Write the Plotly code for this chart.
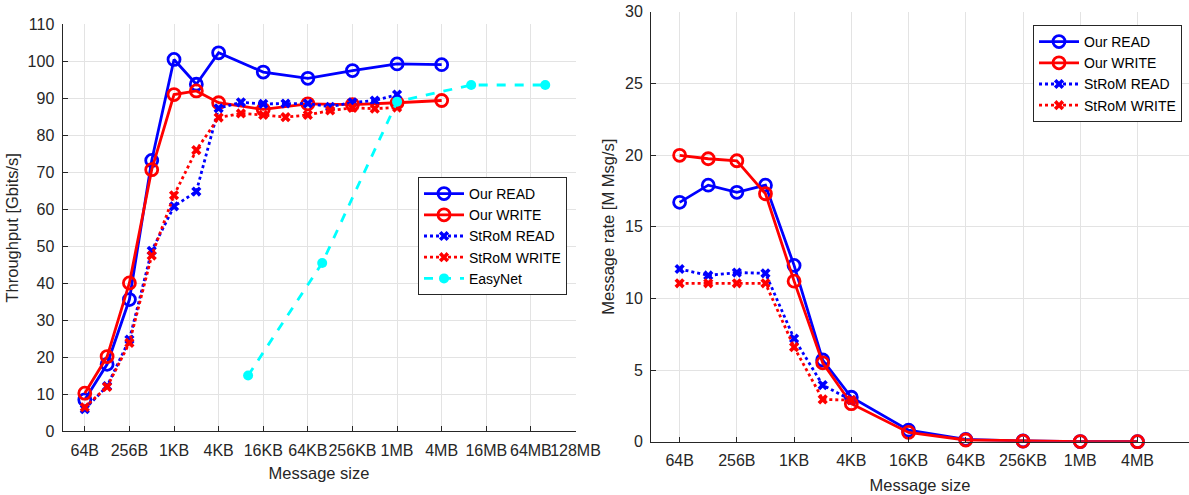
import math
import plotly.graph_objects as go

KB = 1024
MB = 1024 * 1024

# ---------------- data ----------------
# Left: throughput [Gbits/s]
our_sizes_left = [64, 128, 256, 512, 1*KB, 2*KB, 4*KB, 16*KB, 64*KB, 256*KB, 1*MB, 4*MB]
our_read_tp = [8.5, 18.1, 35.6, 73.2, 100.5, 93.8, 102.3, 97.1, 95.4, 97.5, 99.3, 99.1]
our_write_tp = [10.3, 20.2, 40.1, 70.7, 91.0, 92.0, 88.8, 87.0, 88.5, 88.3, 88.8, 89.4]

strom_sizes_left = [64, 128, 256, 512, 1*KB, 2*KB, 4*KB, 8*KB, 16*KB, 32*KB, 64*KB,
                    128*KB, 256*KB, 512*KB, 1*MB]
strom_read_tp = [6.0, 12.2, 24.8, 48.8, 60.8, 64.8, 87.3, 88.9, 88.5, 88.6, 88.6, 87.7, 88.9, 89.4, 91.0]
strom_write_tp = [6.5, 12.0, 23.9, 47.5, 63.8, 76.0, 84.8, 85.9, 85.5, 84.9, 85.5, 86.7, 87.4, 87.2, 87.5]

easynet_sizes = [10*KB, 100*KB, 1*MB, 10*MB, 100*MB]
easynet_tp = [15.1, 45.5, 89.1, 93.6, 93.6]

left_tick_labels = ["64B", "256B", "1KB", "4KB", "16KB", "64KB", "256KB", "1MB", "4MB",
                    "16MB", "64MB", "128MB"]

# Right: message rate [M Msg/s]
our_sizes_right = our_sizes_left
our_read_rate = [16.7, 17.9, 17.4, 17.9, 12.3, 5.7, 3.1, 0.8, 0.16, 0.05, 0.012, 0.003]
our_write_rate = [19.98, 19.74, 19.6, 17.3, 11.2, 5.5, 2.65, 0.65, 0.12, 0.04, 0.01, 0.003]

strom_sizes_right = [64, 128, 256, 512, 1*KB, 2*KB, 4*KB]
strom_read_rate = [12.05, 11.6, 11.8, 11.75, 7.2, 3.95, 2.9]
strom_write_rate = [11.05, 11.05, 11.05, 11.05, 6.6, 2.95, 2.9]

right_tick_labels = ["64B", "256B", "1KB", "4KB", "16KB", "64KB", "256KB", "1MB", "4MB"]


def pos(sizes):
    # position on a log4 axis, 64B = 0
    return [math.log(s / 64, 4) for s in sizes]


BLUE = "#0000FF"
RED = "#FF0000"
CYAN = "#00FFFF"
FONT = "Liberation Sans, Arial, sans-serif"
AX = "#262626"
TICK_SIZE = 16
TITLE_SIZE = 16.5
LEG_SIZE = 14

fig = go.Figure()


def add(x, y, name, color, kind, xa, ya, leg):
    if kind == "our":
        line = dict(color=color, width=2.8)
        marker = dict(symbol="circle-open", size=12, color=color, line=dict(width=2.8, color=color))
    elif kind == "strom":
        line = dict(color=color, width=2.8, dash="dot")
        marker = dict(symbol="x", size=9, color=color, line=dict(width=0))
    else:
        line = dict(color=color, width=2.8, dash="dash")
        marker = dict(symbol="circle", size=10, color=color)
    fig.add_trace(go.Scatter(x=pos(x), y=y, name=name, mode="lines+markers", line=line,
                             marker=marker, xaxis=xa, yaxis=ya, legend=leg, cliponaxis=False))


add(our_sizes_left, our_read_tp, "Our READ", BLUE, "our", "x", "y", "legend")
add(our_sizes_left, our_write_tp, "Our WRITE", RED, "our", "x", "y", "legend")
add(strom_sizes_left, strom_read_tp, "StRoM READ", BLUE, "strom", "x", "y", "legend")
add(strom_sizes_left, strom_write_tp, "StRoM WRITE", RED, "strom", "x", "y", "legend")
add(easynet_sizes, easynet_tp, "EasyNet", CYAN, "easy", "x", "y", "legend")

add(our_sizes_right, our_read_rate, "Our READ", BLUE, "our", "x2", "y2", "legend2")
add(our_sizes_right, our_write_rate, "Our WRITE", RED, "our", "x2", "y2", "legend2")
add(strom_sizes_right, strom_read_rate, "StRoM READ", BLUE, "strom", "x2", "y2", "legend2")
add(strom_sizes_right, strom_write_rate, "StRoM WRITE", RED, "strom", "x2", "y2", "legend2")

W, H = 1189, 495

axis_common = dict(
    showgrid=True, gridcolor="#e3e3e3", gridwidth=1,
    showline=True, linecolor=AX, linewidth=1,
    ticks="inside", ticklen=5, tickcolor=AX, tickwidth=1,
    tickfont=dict(family=FONT, size=TICK_SIZE, color=AX),
    zeroline=False, mirror=False, automargin=False,
)
title_font = dict(family=FONT, size=TITLE_SIZE, color=AX)

fig.update_layout(
    width=W, height=H,
    margin=dict(l=0, r=0, t=0, b=0),
    paper_bgcolor="white", plot_bgcolor="white",
    font=dict(family=FONT, color=AX),
    xaxis=dict(axis_common, domain=[62.5 / W, 575.5 / W], range=[-0.5, 11],
               tickvals=list(range(len(left_tick_labels))), ticktext=left_tick_labels,
               ticklabelstandoff=4, tickangle=0,
               title=dict(text="Message size", font=title_font, standoff=9),
               anchor="y"),
    yaxis=dict(axis_common, domain=[1 - 431.3 / H, 1 - 24.3 / H], range=[0, 110],
               tickvals=list(range(0, 111, 10)), ticklabelstandoff=4,
               title=dict(text="Throughput [Gbits/s]", font=title_font, standoff=4),
               anchor="x"),
    xaxis2=dict(axis_common, domain=[651 / W, 1.0], range=[-0.5, 8.9],
                tickvals=list(range(len(right_tick_labels))), ticktext=right_tick_labels,
                ticklabelstandoff=4, tickangle=0,
                title=dict(text="Message size", font=title_font, standoff=11),
                anchor="y2"),
    yaxis2=dict(axis_common, domain=[1 - 441.7 / H, 1 - 11.7 / H], range=[0, 30],
                tickvals=list(range(0, 31, 5)), ticklabelstandoff=4,
                title=dict(text="Message rate [M Msg/s]", font=title_font, standoff=6),
                anchor="x2"),
    legend=dict(x=567 / W, y=1 - 177 / H, xanchor="right", yanchor="top",
                bgcolor="white", bordercolor=AX, borderwidth=1,
                font=dict(family=FONT, size=LEG_SIZE, color="black"),
                tracegroupgap=0, itemwidth=40),
    legend2=dict(x=1182 / W, y=1 - 25 / H, xanchor="right", yanchor="top",
                 bgcolor="white", bordercolor=AX, borderwidth=1,
                 font=dict(family=FONT, size=LEG_SIZE, color="black"),
                 tracegroupgap=0, itemwidth=40),
    showlegend=True,
)

fig.write_html("out.html", config={"displayModeBar": False},
               post_script="document.body.style.margin='0px';")
